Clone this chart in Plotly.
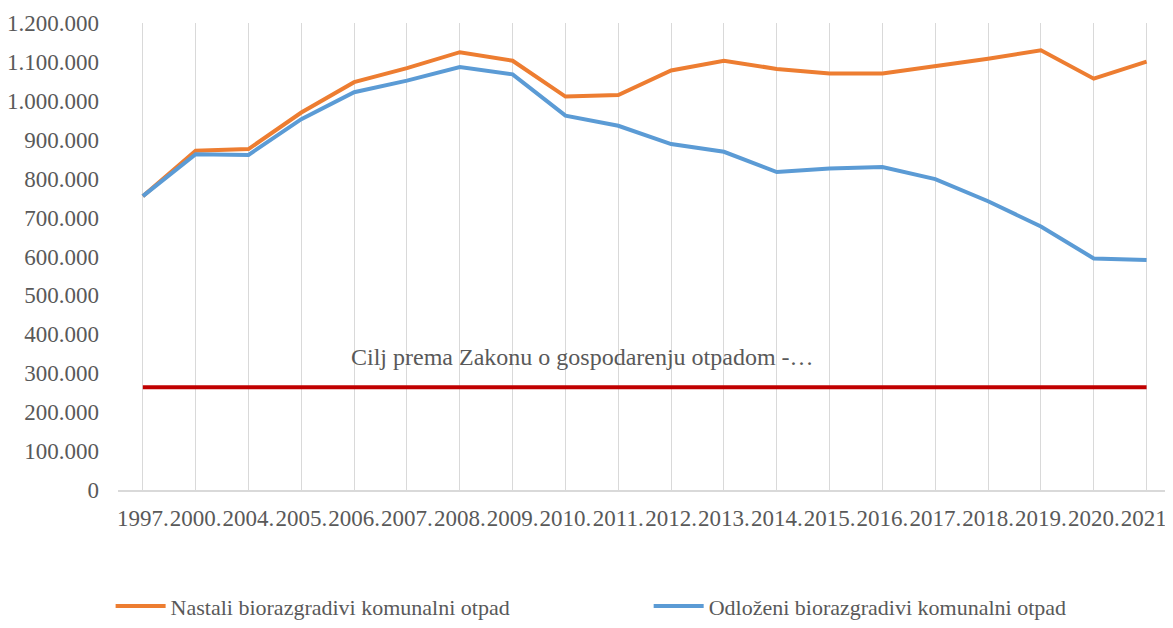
import plotly.graph_objects as go

# ── data ──────────────────────────────────────────────────────────────────────
years = ["1997.", "2000.", "2004.", "2005.", "2006.", "2007.", "2008.", "2009.",
         "2010.", "2011.", "2012.", "2013.", "2014.", "2015.", "2016.", "2017.",
         "2018.", "2019.", "2020.", "2021."]

nastali = [755000, 872000, 876000, 970000, 1048000, 1084000, 1125000, 1103000,
           1011000, 1015000, 1078000, 1103000, 1082000, 1070000, 1070000,
           1089000, 1108000, 1130000, 1057000, 1101000]

odlozeni = [755000, 863000, 861000, 953000, 1022000, 1052000, 1087000, 1068000,
            962000, 936000, 889000, 869000, 817000, 826000, 830000, 799000,
            742000, 677000, 595000, 591000]

cilj = [264000] * len(years)
cilj_label = "Cilj prema Zakonu o gospodarenju otpadom -…"

FONT = "Liberation Serif"
GREY = "#595959"
GRID = "#D9D9D9"

fig = go.Figure()

fig.add_trace(go.Scatter(
    x=years, y=nastali, mode="lines",
    name="Nastali biorazgradivi komunalni otpad",
    line=dict(color="#ED7D31", width=4), legend="legend",
))
fig.add_trace(go.Scatter(
    x=years, y=odlozeni, mode="lines",
    name="Odloženi biorazgradivi komunalni otpad",
    line=dict(color="#5B9BD5", width=4), legend="legend2",
))
fig.add_trace(go.Scatter(
    x=years, y=cilj, mode="lines",
    name=cilj_label, showlegend=False,
    line=dict(color="#C00000", width=4),
))

# data label of the target series (category index 8 = 2010.)
fig.add_annotation(
    x=8, y=cilj[8], xref="x", yref="y", text=cilj_label,
    showarrow=False, xshift=17, yshift=30,
    font=dict(family=FONT, size=24, color=GREY),
)

leg_common = dict(orientation="h", y=-0.294, xanchor="left", yanchor="bottom",
                  font=dict(family=FONT, size=22, color=GREY),
                  itemwidth=50, bgcolor="rgba(0,0,0,0)")

# the page body adds an 8px offset, so the figure is 8px smaller than the window
fig.update_layout(
    width=1165, height=620,
    margin=dict(l=110, r=0, t=15, b=138),
    paper_bgcolor="white", plot_bgcolor="white",
    separators=",.",
    font=dict(family=FONT, color=GREY, size=22),
    showlegend=True,
    legend=dict(x=-0.007, **leg_common),
    legend2=dict(x=0.503, **leg_common),
)

fig.update_xaxes(
    type="category", range=[-0.47, 19.5],
    showgrid=True, gridcolor=GRID, gridwidth=1,
    showline=True, linecolor=GRID, linewidth=2,
    ticks="", ticklabelstandoff=6, tickangle=0, automargin=False,
    tickfont=dict(family=FONT, size=23, color=GREY),
    zeroline=False,
)
fig.update_yaxes(
    range=[0, 1200000], dtick=100000, tickformat=",d",
    showgrid=False, zeroline=False, showline=False,
    ticks="", ticklabelstandoff=18, automargin=False,
    tickfont=dict(family=FONT, size=23, color=GREY),
)

fig.write_html("out.html")
